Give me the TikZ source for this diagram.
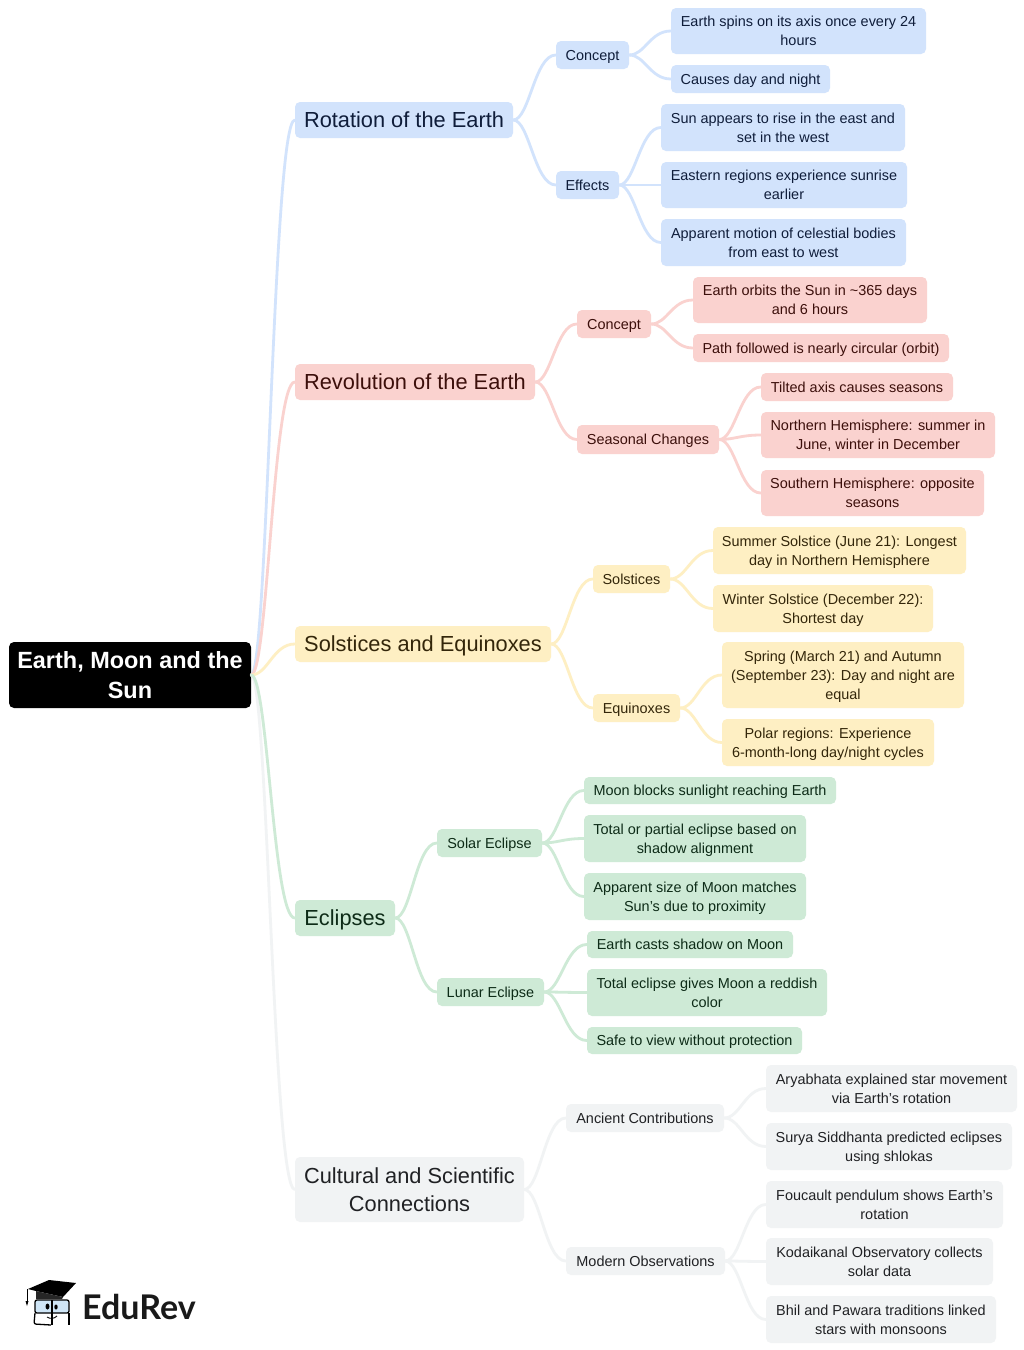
\documentclass[tikz,border=0pt]{standalone}
\usepackage{fontspec}
\setmainfont{Liberation Sans}
\newfontfamily\logofont{Lato}
\usetikzlibrary{calc}
\definecolor{bF}{HTML}{D2E3FC}\definecolor{bT}{HTML}{0F1D3A}
\definecolor{rF}{HTML}{FAD2CF}\definecolor{rT}{HTML}{3C0F0B}
\definecolor{yF}{HTML}{FEEFC3}\definecolor{yT}{HTML}{33260A}
\definecolor{gF}{HTML}{CEEAD6}\definecolor{gT}{HTML}{0D2B17}
\definecolor{kF}{HTML}{F1F3F4}\definecolor{kT}{HTML}{202124}
\definecolor{glass}{HTML}{CFE6F7}
\tikzset{
 boxbase/.style={rounded corners=5pt,inner sep=0pt,align=center},
 small/.style={font=\fontsize{14.45}{19}\selectfont},
 big/.style={font=\fontsize{21.8}{28.5}\selectfont},
 blues/.style={boxbase,fill=bF,text=bT},
 reds/.style={boxbase,fill=rF,text=rT},
 yels/.style={boxbase,fill=yF,text=yT},
 grns/.style={boxbase,fill=gF,text=gT},
 grys/.style={boxbase,fill=kF,text=kT},
 rootbox/.style={boxbase,fill=black,text=white,font=\fontsize{23.45}{30}\selectfont\bfseries},
 lnk/.style={line width=2.8pt,line cap=round}
}
\newcommand\bx[7]{\node[#2,minimum width={(#5-#3)*1pt},minimum height={(#6-#4)*1pt}] (#1) at ({(#3+#5)/2},{(#4+#6)/2}) {\rule{0pt}{0.85\baselineskip}#7\strut};}
\newcommand\lk[3]{\coordinate (cpa) at ($(#2.east)!0.38!(#2.east -| #3.west)$);\coordinate (cpb) at ($(#2.east)!0.5!(#2.east -| #3.west)$);\draw[lnk,draw=#1] (#2.east) .. controls (cpa) and (cpb |- #3.west) .. (#3.west);}
\begin{document}
\begin{tikzpicture}[x=1pt,y=-1pt]
\useasboundingbox[fill=white] (0,0) rectangle (1024,1350);
% root
\bx{root}{rootbox}{9}{642}{251}{708}{Earth, Moon and the\\Sun}
% blue
\bx{rot}{blues,big}{295}{102}{513}{138}{Rotation of the Earth}
\bx{rc}{blues,small}{556}{41}{629}{69}{Concept}
\bx{re}{blues,small}{556}{171}{619}{199}{Effects}
\bx{r1}{blues,small}{671}{8}{926}{54}{Earth spins on its axis once every 24\\hours}
\bx{r2}{blues,small}{671}{65}{830}{93}{Causes day and night}
\bx{r3}{blues,small}{661}{104}{905}{151}{Sun appears to rise in the east and\\set in the west}
\bx{r4}{blues,small}{661}{162}{907}{208}{Eastern regions experience sunrise\\earlier}
\bx{r5}{blues,small}{661}{219}{906}{266}{Apparent motion of celestial bodies\\from east to west}
% red
\bx{rev}{reds,big}{295}{364}{535}{400}{Revolution of the Earth}
\bx{vc}{reds,small}{577}{310}{651}{338}{Concept}
\bx{vs}{reds,small}{577}{425}{719}{454}{Seasonal Changes}
\bx{v1}{reds,small}{693}{277}{927}{323}{Earth orbits the Sun in \char`~365 days\\and 6 hours}
\bx{v2}{reds,small}{693}{334}{949}{362}{Path followed is nearly circular (orbit)}
\bx{v3}{reds,small}{761}{373}{953}{401}{Tilted axis causes seasons}
\bx{v4}{reds,small}{761}{412}{995}{458}{Northern Hemisphere: summer in\\June, winter in December}
\bx{v5}{reds,small}{761}{470}{984}{516}{Southern Hemisphere: opposite\\seasons}
% yellow
\bx{sol}{yels,big}{295}{626}{551}{662}{Solstices and Equinoxes}
\bx{ss}{yels,small}{593}{565}{670}{593}{Solstices}
\bx{se}{yels,small}{593}{694}{680}{722}{Equinoxes}
\bx{s1}{yels,small}{713}{527}{966}{574}{Summer Solstice (June 21): Longest\\day in Northern Hemisphere}
\bx{s2}{yels,small}{713}{585}{933}{632}{Winter Solstice (December 22):\\Shortest day}
\bx{s3}{yels,small}{722}{642}{964}{708}{Spring (March 21) and Autumn\\(September 23): Day and night are\\equal}
\bx{s4}{yels,small}{722}{719}{934}{766}{Polar regions: Experience\\6-month-long day/night cycles}
% green
\bx{ecl}{grns,big}{295}{900}{395}{936}{Eclipses}
\bx{es}{grns,small}{437}{829}{542}{857}{Solar Eclipse}
\bx{el}{grns,small}{437}{978}{544}{1006}{Lunar Eclipse}
\bx{e1}{grns,small}{584}{777}{836}{804}{Moon blocks sunlight reaching Earth}
\bx{e2}{grns,small}{584}{815}{806}{862}{Total or partial eclipse based on\\shadow alignment}
\bx{e3}{grns,small}{584}{873}{806}{920}{Apparent size of Moon matches\\Sun's due to proximity}
\bx{e4}{grns,small}{587}{931}{793}{958}{Earth casts shadow on Moon}
\bx{e5}{grns,small}{587}{969}{827}{1016}{Total eclipse gives Moon a reddish\\color}
\bx{e6}{grns,small}{587}{1027}{802}{1054}{Safe to view without protection}
% gray
\bx{cul}{grys,big}{295}{1157}{524}{1222}{Cultural and Scientific\\Connections}
\bx{ca}{grys,small}{566}{1104}{724}{1132}{Ancient Contributions}
\bx{cm}{grys,small}{566}{1247}{725}{1275}{Modern Observations}
\bx{c1}{grys,small}{766}{1065}{1017}{1112}{Aryabhata explained star movement\\via Earth's rotation}
\bx{c2}{grys,small}{766}{1123}{1012}{1170}{Surya Siddhanta predicted eclipses\\using shlokas}
\bx{c3}{grys,small}{766}{1181}{1003}{1228}{Foucault pendulum shows Earth's\\rotation}
\bx{c4}{grys,small}{766}{1238}{993}{1285}{Kodaikanal Observatory collects\\solar data}
\bx{c5}{grys,small}{766}{1296}{996}{1343}{Bhil and Pawara traditions linked\\stars with monsoons}
% connectors
\lk{bF}{root}{rot}\lk{rF}{root}{rev}\lk{yF}{root}{sol}\lk{kF}{root}{cul}\lk{gF}{root}{ecl}
\lk{bF}{rot}{rc}\lk{bF}{rot}{re}\lk{bF}{rc}{r1}\lk{bF}{rc}{r2}\lk{bF}{re}{r3}\lk{bF}{re}{r4}\lk{bF}{re}{r5}
\lk{rF}{rev}{vc}\lk{rF}{rev}{vs}\lk{rF}{vc}{v1}\lk{rF}{vc}{v2}\lk{rF}{vs}{v3}\lk{rF}{vs}{v4}\lk{rF}{vs}{v5}
\lk{yF}{sol}{ss}\lk{yF}{sol}{se}\lk{yF}{ss}{s1}\lk{yF}{ss}{s2}\lk{yF}{se}{s3}\lk{yF}{se}{s4}
\lk{gF}{ecl}{es}\lk{gF}{ecl}{el}\lk{gF}{es}{e1}\lk{gF}{es}{e2}\lk{gF}{es}{e3}\lk{gF}{el}{e4}\lk{gF}{el}{e5}\lk{gF}{el}{e6}
\lk{kF}{cul}{ca}\lk{kF}{cul}{cm}\lk{kF}{ca}{c1}\lk{kF}{ca}{c2}\lk{kF}{cm}{c3}\lk{kF}{cm}{c4}\lk{kF}{cm}{c5}
% logo
\fill[black] (28,1289) -- (49,1280) -- (76,1283) -- (63,1297) -- (36,1291) -- cycle;
\fill[black!85] (36,1291) -- (36,1299) -- (62,1299) -- (63,1297) -- cycle;
\draw[black,line width=1pt] (27,1289) -- (27,1303);
\fill[black] (25.5,1301) -- (28.5,1301) -- (27,1306) -- cycle;
\draw[black,line width=1.3pt,fill=glass,rounded corners=2pt] (35,1300) rectangle (69,1313);
\draw[black,line width=1.3pt] (52,1300) -- (52,1325);
\draw[black,line width=1.3pt,rounded corners=2pt] (35,1313) -- (34,1324) -- (51,1325);
\draw[black,line width=1.3pt,rounded corners=2pt] (69,1313) -- (69,1325);
\fill[black] (47.5,1306.5) ellipse (2pt and 3pt);
\fill[black] (56,1307) ellipse (1.7pt and 2.5pt);
\draw[black,line width=.9pt] (47,1317) .. controls (50,1319) and (54,1319) .. (57,1316);
\node[anchor=base west,inner sep=0pt,text=black!90,font=\logofont\bfseries\fontsize{34}{34}\selectfont] (logo) at (82,1319) {EduRev};
\end{tikzpicture}
\end{document}
